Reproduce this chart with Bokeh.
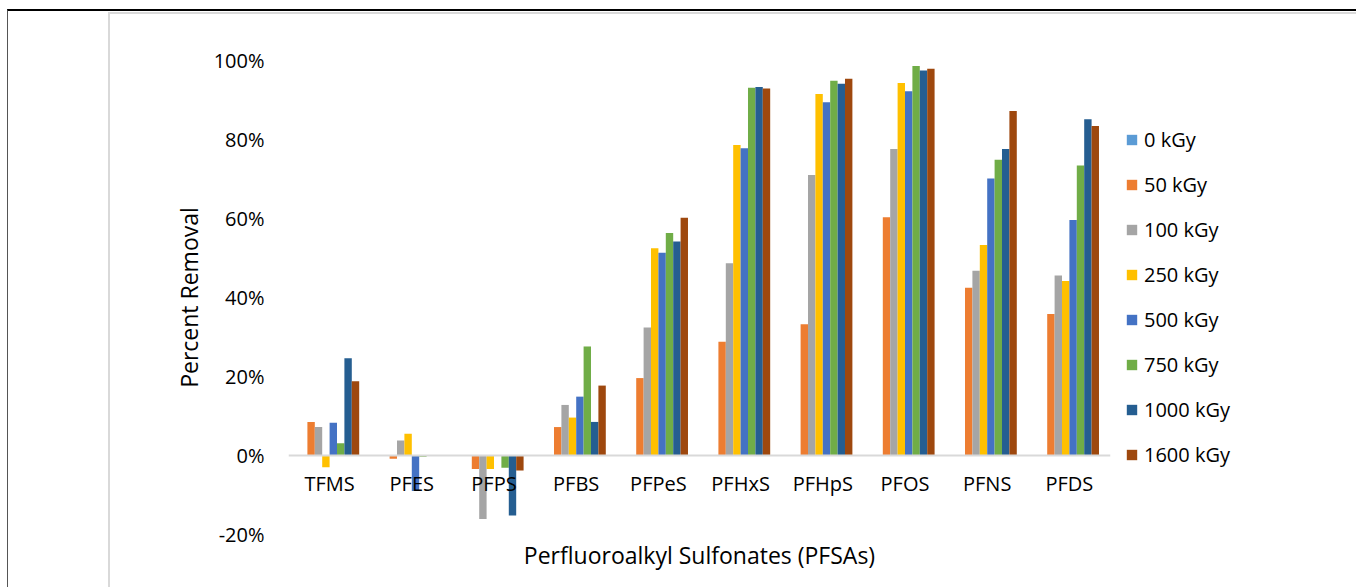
from bokeh.plotting import figure
from bokeh.models import FactorRange, Range1d, NumeralTickFormatter, Legend, LegendItem, ColumnDataSource, Title
from bokeh.transform import dodge
from bokeh.layouts import column
from bokeh.embed import file_html
from bokeh.resources import INLINE

categories = ["TFMS", "PFES", "PFPS", "PFBS", "PFPeS", "PFHxS", "PFHpS", "PFOS", "PFNS", "PFDS"]
series_names = ["0 kGy", "50 kGy", "100 kGy", "250 kGy", "500 kGy", "750 kGy", "1000 kGy", "1600 kGy"]

kgy_0 = [0, 0, 0, 0, 0, 0, 0, 0, 0, 0]
kgy_50 = [0.085, -0.008, -0.034, 0.072, 0.196, 0.288, 0.332, 0.603, 0.425, 0.358]
kgy_100 = [0.072, 0.038, -0.161, 0.128, 0.324, 0.487, 0.710, 0.776, 0.468, 0.456]
kgy_250 = [-0.030, 0.055, -0.034, 0.096, 0.525, 0.786, 0.915, 0.943, 0.533, 0.442]
kgy_500 = [0.083, -0.090, 0.0, 0.149, 0.513, 0.778, 0.894, 0.922, 0.701, 0.596]
kgy_750 = [0.031, -0.003, -0.031, 0.276, 0.563, 0.931, 0.949, 0.986, 0.749, 0.734]
kgy_1000 = [0.246, -0.001, -0.152, 0.085, 0.542, 0.933, 0.941, 0.975, 0.776, 0.851]
kgy_1600 = [0.188, -0.001, -0.038, 0.177, 0.602, 0.929, 0.954, 0.979, 0.872, 0.834]

series_values = [kgy_0, kgy_50, kgy_100, kgy_250, kgy_500, kgy_750, kgy_1000, kgy_1600]
colors = ["#5B9BD5", "#ED7D31", "#A5A5A5", "#FFC000", "#4472C4", "#70AD47", "#255E91", "#9E480E"]
y_ticks = [-0.2, 0.0, 0.2, 0.4, 0.6, 0.8, 1.0]

FONT = "Open Sans"
FS = "20px"
TITLE_FS = "23px"

data = {"cat": categories}
for i, vals in enumerate(series_values):
    data[f"s{i}"] = vals
source = ColumnDataSource(data)

p = figure(x_range=FactorRange(*categories), y_range=Range1d(-0.2, 1.0),
           frame_width=822, frame_height=474, output_backend="svg", toolbar_location=None,
           min_border_left=178, min_border_right=154, min_border_top=46, min_border_bottom=53,
           styles={"outline": "2px solid #D9D9D9", "outline-offset": "0px"})
p.outline_line_color = None
p.xgrid.visible = False
p.ygrid.visible = False
p.background_fill_color = "white"
p.border_fill_color = "white"

bw = 0.09
items = []
for i, name in enumerate(series_names):
    r = p.vbar(x=dodge("cat", (i - 3.5) * bw, range=p.x_range), top=f"s{i}", bottom=0,
               width=bw, source=source, fill_color=colors[i], line_color=None)
    items.append(LegendItem(label=name, renderers=[r]))

# x axis at zero
xa = p.xaxis[0]
xa.fixed_location = 0
xa.axis_line_color = "#D9D9D9"
xa.axis_line_width = 2
xa.major_tick_line_color = None
xa.major_tick_in = 0
xa.major_tick_out = 0
xa.minor_tick_line_color = None
xa.major_label_text_font = FONT
xa.major_label_text_font_size = FS
xa.major_label_text_color = "#000000"
xa.major_label_standoff = 14

p.add_layout(Title(text="Perfluoroalkyl Sulfonates (PFSAs)", align="center",
                   text_font=FONT, text_font_size=TITLE_FS, text_font_style="normal",
                   text_color="#000000", standoff=4), "below")

ya = p.yaxis[0]
ya.ticker = y_ticks
ya.formatter = NumeralTickFormatter(format="0%")
ya.axis_line_color = None
ya.major_tick_line_color = None
ya.minor_tick_line_color = None
ya.major_tick_in = 0
ya.major_tick_out = 0
ya.major_label_text_font = FONT
ya.major_label_text_font_size = FS
ya.major_label_text_color = "#000000"
ya.major_label_standoff = 24
ya.axis_label = "Percent Removal"
ya.axis_label_text_font = FONT
ya.axis_label_text_font_size = TITLE_FS
ya.axis_label_text_font_style = "normal"
ya.axis_label_text_color = "#000000"
ya.axis_label_standoff = 6

legend = Legend(items=items, location="left", orientation="vertical",
                glyph_width=13, glyph_height=13, label_height=27, spacing=18,
                label_standoff=6, padding=0, margin=15, border_line_color=None,
                background_fill_alpha=0,
                label_text_font=FONT, label_text_font_size=FS, label_text_color="#000000")
p.add_layout(legend, "right")

layout = column(p, styles={"margin-left": "7px", "margin-top": "9px",
                           "border-top": "2px solid #000000", "border-left": "1px solid #555555",
                           "padding-left": "102px", "padding-top": "3px", "padding-right": "92px",
                           "background-color": "white"})

open("out.html", "w").write(file_html(layout, INLINE))
